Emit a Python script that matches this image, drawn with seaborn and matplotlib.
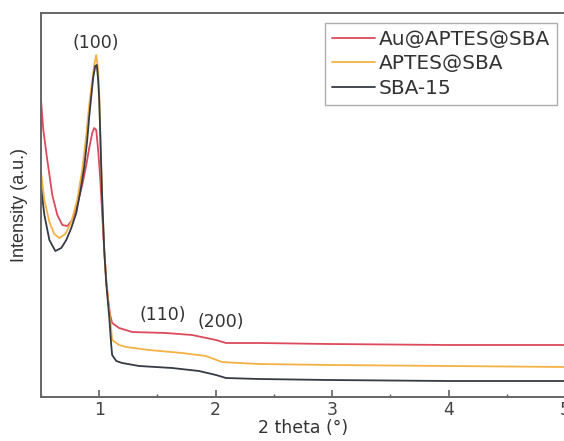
import numpy as np
import pandas as pd
import matplotlib
matplotlib.use("Agg")
import matplotlib.pyplot as plt
import seaborn as sns
from matplotlib.ticker import MultipleLocator

sns.set_style("ticks")
plt.rcParams['font.family'] = ['DejaVu Sans']

# Data (intensity in arbitrary units)
x_sba = [0.500, 0.529, 0.572, 0.623, 0.674, 0.717, 0.760, 0.803, 0.837, 0.871, 0.897, 0.914,
         0.931, 0.949, 0.966, 0.979, 0.991, 1.000, 1.013, 1.026, 1.043, 1.060, 1.086, 1.103,
         1.111, 1.146, 1.197, 1.343, 1.626, 1.857, 2.003, 2.088, 2.371, 2.971, 3.999, 5.000]
y_sba = [210, 182, 157, 146, 149, 157, 169, 184, 205, 230, 257, 280,
         300, 320, 331, 332, 317, 297, 247, 197, 147, 114, 80, 52,
         42, 36, 34, 31, 29, 26, 22, 19, 18, 17, 16, 16]

x_aptes = [0.500, 0.529, 0.572, 0.614, 0.657, 0.709, 0.760, 0.811, 0.854, 0.889, 0.914, 0.940,
           0.957, 0.974, 0.991, 1.000, 1.013, 1.026, 1.043, 1.060, 1.086, 1.103, 1.111, 1.171,
           1.231, 1.428, 1.711, 1.917, 2.054, 2.200, 2.371, 2.971, 3.999, 5.000]
y_aptes = [225, 197, 175, 163, 159, 163, 175, 197, 227, 262, 292, 317,
           332, 342, 327, 302, 247, 197, 147, 117, 87, 67, 57, 52,
           50, 47, 44, 41, 35, 34, 33, 32, 31, 30]

x_au = [0.500, 0.520, 0.554, 0.597, 0.640, 0.683, 0.726, 0.769, 0.811, 0.854, 0.889, 0.914,
        0.940, 0.957, 0.974, 0.991, 1.009, 1.026, 1.043, 1.060, 1.077, 1.094, 1.111, 1.171,
        1.283, 1.574, 1.797, 2.003, 2.088, 2.371, 2.971, 3.999, 5.000]
y_au = [297, 267, 237, 202, 182, 172, 171, 177, 192, 212, 232, 249,
        264, 269, 267, 247, 217, 182, 147, 117, 97, 82, 74, 69,
        65, 64, 62, 57, 54, 54, 53, 52, 52]

series_names = ["Au@APTES@SBA", "APTES@SBA", "SBA-15"]
series_colors = ["#dc4a5c", "#f4b244", "#353a44"]
peak_labels = ["(100)", "(110)", "(200)"]
peak_x = [0.966, 1.548, 2.045]
peak_y = [354, 82, 75]

df = pd.concat([
    pd.DataFrame({"x": x_au, "y": y_au, "sample": series_names[0]}),
    pd.DataFrame({"x": x_aptes, "y": y_aptes, "sample": series_names[1]}),
    pd.DataFrame({"x": x_sba, "y": y_sba, "sample": series_names[2]}),
])

fig = plt.figure(figsize=(5.64, 4.41), dpi=100)
# axes: left spine at x=41px, top at 13px, bottom at 397px, right just past the edge
ax = fig.add_axes([41 / 564, 44 / 441, 524 / 564, 384 / 441])

sns.lineplot(data=df, x="x", y="y", hue="sample", hue_order=series_names,
             palette=dict(zip(series_names, series_colors)), ax=ax,
             linewidth=1.3, sort=False, estimator=None)

ax.set_xlim(0.5, 5.0)
ax.set_ylim(0, 384)
ax.xaxis.set_major_locator(MultipleLocator(1))
ax.xaxis.set_minor_locator(MultipleLocator(0.5))
ax.set_yticks([])
ax.tick_params(axis="x", which="major", direction="in", length=5, width=1.1,
               labelsize=12.5, colors="#555555", labelcolor="#444444", pad=3)
ax.tick_params(axis="x", which="minor", direction="in", length=2.5, width=1.0, colors="#555555")
for s in ax.spines.values():
    s.set_color("#666666")
    s.set_linewidth(1.4)

ax.set_xlabel("2 theta (°)", fontsize=12.5, color="#333333", labelpad=0)
ax.set_ylabel("Intensity (a.u.)", fontsize=13, color="#333333", labelpad=9,
              family=["Liberation Sans", "DejaVu Sans"])

for lab, px, py in zip(peak_labels, peak_x, peak_y):
    ax.text(px, py, lab, ha="center", va="center", fontsize=12.5, color="#333333")

leg = ax.legend(loc="upper right", bbox_to_anchor=((557 - 41) / 524, (397 - 23) / 384),
                fontsize=14.5, frameon=True, fancybox=False, edgecolor="#999999",
                handlelength=2.1, handletextpad=0.2, labelspacing=0.27,
                borderpad=0.35, borderaxespad=0.0)
leg.get_frame().set_linewidth(1.0)
for t in leg.get_texts():
    t.set_color("#333333")

fig.savefig("out.png", dpi=100)
